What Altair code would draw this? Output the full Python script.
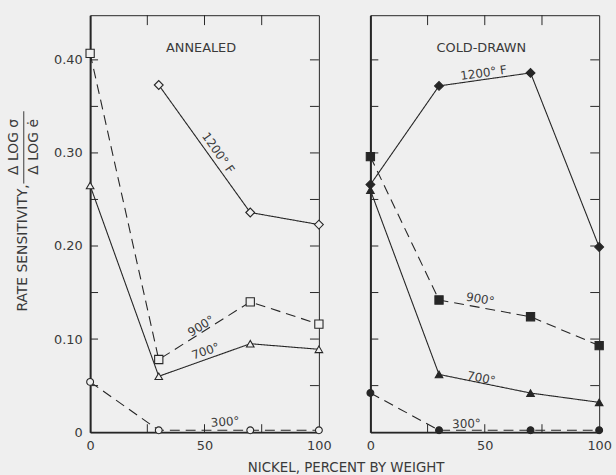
import altair as alt
import pandas as pd

# Nickel content (percent by weight) of the four alloys tested
nickel = [0, 30, 70, 100]

# Rate sensitivity, annealed specimens (no 1200 F value for pure copper)
annealed_1200 = [None, 0.373, 0.236, 0.223]
annealed_900 = [0.407, 0.078, 0.140, 0.116]
annealed_700 = [0.265, 0.060, 0.095, 0.089]
annealed_300 = [0.054, 0.002, 0.002, 0.002]

# Rate sensitivity, cold-drawn specimens
cold_1200 = [0.266, 0.372, 0.386, 0.199]
cold_900 = [0.296, 0.142, 0.124, 0.093]
cold_700 = [0.260, 0.062, 0.042, 0.032]
cold_300 = [0.042, 0.002, 0.002, 0.002]

temps = ["1200", "900", "700", "300"]

# Curve labels: text, position along the curve, rotation
annealed_lbl_text = ["1200° F", "900°", "700°", "300°"]
annealed_lbl_x = [56, 48.5, 50.5, 59]
annealed_lbl_y = [0.300, 0.114, 0.087, 0.011]
annealed_lbl_angle = [55, 328, 341, 356]

cold_lbl_text = ["1200° F", "900°", "700°", "300°"]
cold_lbl_x = [49.5, 48, 48.5, 42]
cold_lbl_y = [0.386, 0.143, 0.058, 0.009]
cold_lbl_angle = [352, 10, 11, 358]

y_ticks = [0.05, 0.10, 0.15, 0.20, 0.25, 0.30, 0.35, 0.40]
x_ticks = [25, 50, 75]

INK = "#262626"
TXT = "#3a3a3a"
BG = "#efefef"
FONT = "DejaVu Sans"
W, H = 231, 421


def series_frame(values_by_temp):
    rows = []
    for t, vals in zip(temps, values_by_temp):
        for n, v in zip(nickel, vals):
            if v is not None:
                rows.append({"nickel": n, "rs": v, "temp": t})
    return pd.DataFrame(rows)


xscale = alt.Scale(domain=[0, 100], nice=False)
yscale = alt.Scale(domain=[0, 0.448], nice=False, zero=False)

dash_scale = alt.Scale(domain=temps, range=[[1, 0], [10, 6], [1, 0], [10, 6]])
shape_scale = alt.Scale(domain=temps, range=["diamond", "square", "triangle-up", "circle"])
size_scale = alt.Scale(domain=temps, range=[80, 48, 65, 82])


def make_panel(values_by_temp, title, lbl_text, lbl_x, lbl_y, lbl_angle, filled, first):
    df = series_frame(values_by_temp)

    xaxis = alt.Axis(
        values=[0, 50, 100], ticks=False, grid=False, domainWidth=2, domainColor=INK,
        labelFont=FONT, labelFontSize=13, labelColor=TXT, labelPadding=8,
        labelFlush=False,
        title="NICKEL, PERCENT BY WEIGHT" if first else None,
        titleFont=FONT, titleFontSize=13.5, titleFontWeight="normal", titleColor=TXT,
        titleX=258, titleY=36, titleAlign="center", titleBaseline="middle",
    )
    yaxis = alt.Axis(
        values=[0, 0.1, 0.2, 0.3, 0.4], ticks=False, grid=False, domainWidth=2,
        domainColor=INK, labels=first,
        labelExpr="datum.value == 0 ? '0' : format(datum.value, '.2f')",
        labelFont=FONT, labelFontSize=13, labelColor=TXT, labelPadding=8,
        labelFlush=False, title=None,
    )
    X = alt.X("nickel:Q", scale=xscale, axis=xaxis)
    Y = alt.Y("rs:Q", scale=yscale, axis=yaxis)

    lines = alt.Chart(df).mark_line(color=INK, strokeWidth=1.1).encode(
        x=X, y=Y,
        detail="temp:N",
        strokeDash=alt.StrokeDash("temp:N", scale=dash_scale, legend=None),
    )
    points = alt.Chart(df).mark_point(
        filled=True, stroke=INK, strokeWidth=1.1, opacity=1,
        fill=INK if filled else BG,
    ).encode(
        x=X, y=Y,
        shape=alt.Shape("temp:N", scale=shape_scale, legend=None),
        size=alt.Size("temp:N", scale=size_scale, legend=None),
    )

    lbl_df = pd.DataFrame({"nickel": lbl_x, "rs": lbl_y, "t": lbl_text, "a": lbl_angle})
    labels = alt.Chart(lbl_df).mark_text(
        font=FONT, fontSize=12, color=TXT, baseline="middle", align="center"
    ).encode(x=X, y=Y, text="t:N", angle=alt.Angle("a:Q", scale=None))

    title_df = pd.DataFrame({"nickel": [48.5], "rs": [0.413], "t": [title]})
    ptitle = alt.Chart(title_df).mark_text(
        font=FONT, fontSize=13, color=TXT, baseline="middle", align="center"
    ).encode(x=X, y=Y, text="t:N")

    ydf = pd.DataFrame({"rs": y_ticks})
    xdf = pd.DataFrame({"nickel": x_ticks})
    tick_style = dict(color=INK, strokeWidth=1)
    left_ticks = alt.Chart(ydf).mark_rule(**tick_style).encode(
        y=Y, x=alt.value(0), x2=alt.value(8))
    right_ticks = alt.Chart(ydf).mark_rule(**tick_style).encode(
        y=Y, x=alt.value(W), x2=alt.value(W - 9))
    top_ticks = alt.Chart(xdf).mark_rule(**tick_style).encode(
        x=X, y=alt.value(0), y2=alt.value(10))
    bottom_ticks = alt.Chart(xdf).mark_rule(**tick_style).encode(
        x=X, y=alt.value(H), y2=alt.value(H - 8))

    layers = [left_ticks, right_ticks, top_ticks, bottom_ticks, lines, points, labels, ptitle]

    if first:
        # Vertical axis title with the stacked fraction  Δlog σ / Δlog ė
        ytxt = dict(font=FONT, fontSize=14, color=TXT, angle=270,
                    align="center", baseline="middle")
        main = alt.Chart(pd.DataFrame({"t": ["RATE  SENSITIVITY,"]})).mark_text(**ytxt).encode(
            x=alt.value(-68), y=alt.value(235), text="t:N")
        num = alt.Chart(pd.DataFrame({"t": ["Δ LOG  σ"]})).mark_text(**ytxt).encode(
            x=alt.value(-77), y=alt.value(133), text="t:N")
        den = alt.Chart(pd.DataFrame({"t": ["Δ LOG  ė"]})).mark_text(**ytxt).encode(
            x=alt.value(-57), y=alt.value(133), text="t:N")
        bar = alt.Chart(pd.DataFrame({"k": [0]})).mark_rule(color=TXT, strokeWidth=1).encode(
            x=alt.value(-67), y=alt.value(97), y2=alt.value(170))
        layers += [main, num, den, bar]

    return alt.layer(*layers).properties(width=W, height=H)


left = make_panel(
    [annealed_1200, annealed_900, annealed_700, annealed_300], "ANNEALED",
    annealed_lbl_text, annealed_lbl_x, annealed_lbl_y, annealed_lbl_angle,
    filled=False, first=True,
)
right = make_panel(
    [cold_1200, cold_900, cold_700, cold_300], "COLD-DRAWN",
    cold_lbl_text, cold_lbl_x, cold_lbl_y, cold_lbl_angle,
    filled=True, first=False,
)

chart = (
    alt.hconcat(left, right, spacing=52, bounds="flush")
    .properties(padding={"left": 6, "top": 12, "right": 4, "bottom": 4}, background=BG)
    .configure_view(stroke=INK, strokeWidth=1)
)

chart.save("out.html", embed_options={"renderer": "svg", "actions": False})
